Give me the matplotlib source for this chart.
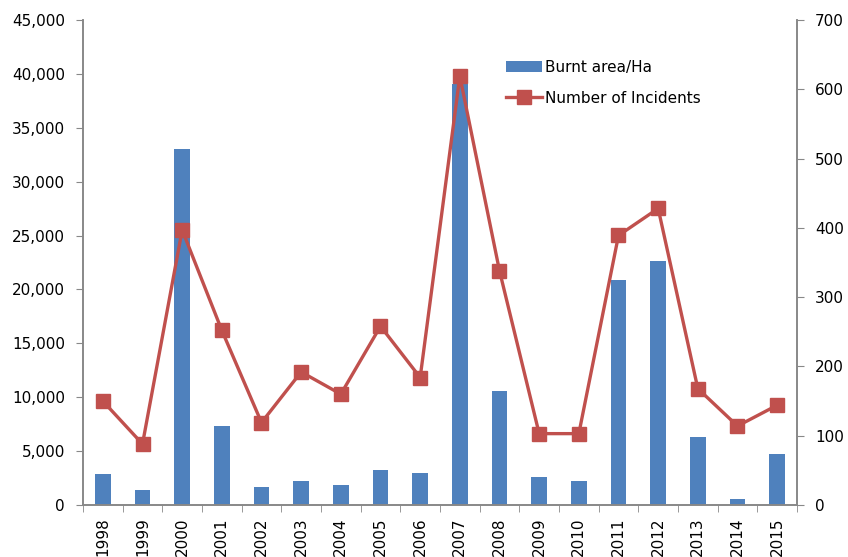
import matplotlib
matplotlib.use("Agg")
import matplotlib.pyplot as plt
from matplotlib.ticker import FuncFormatter, MultipleLocator
import numpy as np

years = ["1998", "1999", "2000", "2001", "2002", "2003", "2004", "2005", "2006",
         "2007", "2008", "2009", "2010", "2011", "2012", "2013", "2014", "2015"]
burnt_area = [2900, 1400, 33000, 7300, 1650, 2200, 1900, 3250, 3000,
              39100, 10600, 2570, 2200, 20900, 22600, 6300, 600, 4750]
incidents = [150, 88, 397, 252, 119, 192, 160, 258, 184,
             619, 338, 103, 103, 389, 428, 168, 114, 144]

BAR_COLOR = "#4F81BD"
LINE_COLOR = "#C0504D"
AXIS_COLOR = "#888888"

plt.rcParams["font.family"] = ["DejaVu Sans"]

fig = plt.figure(figsize=(8.48, 5.57), dpi=100)
ax = fig.add_axes([83 / 848, 52 / 557, (797 - 83) / 848, (505 - 20) / 557])
ax2 = ax.twinx()

x = np.arange(len(years))
ax.bar(x, burnt_area, width=0.4, color=BAR_COLOR, label="Burnt area/Ha", zorder=2)
ax2.plot(x, incidents, color=LINE_COLOR, lw=2.4, marker="s", markersize=9.5,
         label="Number of Incidents", zorder=3)

ax.set_xlim(-0.5, len(years) - 0.5)
ax.set_ylim(0, 45000)
ax2.set_ylim(0, 700)
ax.yaxis.set_major_locator(MultipleLocator(5000))
ax2.yaxis.set_major_locator(MultipleLocator(100))
ax.yaxis.set_major_formatter(FuncFormatter(lambda v, p: f"{int(v):,}"))

# category labels centred, tick marks on the category boundaries
ax.set_xticks(x)
ax.set_xticklabels(years, rotation=90, fontsize=11)
ax.tick_params(axis="x", which="major", length=0, pad=9)
ax.set_xticks(np.arange(-0.5, len(years)), minor=True)
ax.tick_params(axis="x", which="minor", length=5, color=AXIS_COLOR, direction="out")

for a in (ax, ax2):
    a.tick_params(axis="y", labelsize=11, length=5, color=AXIS_COLOR, direction="out", pad=8)
    a.spines["top"].set_visible(False)
    for side in ("left", "right", "bottom"):
        a.spines[side].set_color(AXIS_COLOR)
        a.spines[side].set_linewidth(1.2)

h1, l1 = ax.get_legend_handles_labels()
h2, l2 = ax2.get_legend_handles_labels()
fig.legend(h1 + h2, l1 + l2, loc="upper left", bbox_to_anchor=(492 / 848, 1 - 46 / 557),
           frameon=False, fontsize=11, handlelength=2.4, handletextpad=0.15,
           labelspacing=1.05)

fig.savefig("out.png", dpi=100)
